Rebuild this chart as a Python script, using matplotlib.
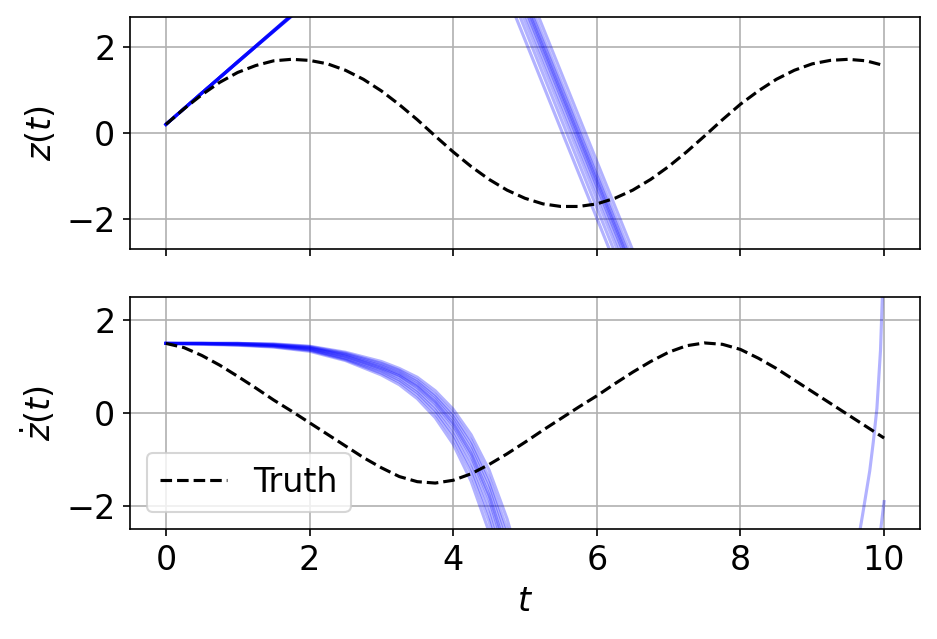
import matplotlib
matplotlib.use("Agg")
import matplotlib.pyplot as plt

plt.rcParams['font.size'] = 16

# ---- Truth ----
t_truth = [0.0, 0.25, 0.5, 0.75, 1.0, 1.25, 1.5, 1.75, 2.0, 2.25, 2.5, 2.75, 3.0, 3.25,
           3.5, 3.75, 4.0, 4.25, 4.5, 4.75, 5.0, 5.25, 5.5, 5.75, 6.0, 6.25, 6.5, 6.75,
           7.0, 7.25, 7.5, 7.75, 8.0, 8.25, 8.5, 8.75, 9.0, 9.25, 9.5, 9.75, 10.0]
z_truth = [0.20, 0.56, 0.89, 1.18, 1.41, 1.57, 1.68, 1.715, 1.69, 1.61, 1.46, 1.25, 0.98, 0.66,
           0.31, -0.07, -0.44, -0.78, -1.08, -1.33, -1.52, -1.65, -1.71, -1.71, -1.65, -1.52, -1.33, -1.08,
           -0.78, -0.44, -0.07, 0.31, 0.67, 0.98, 1.25, 1.46, 1.61, 1.69, 1.715, 1.68, 1.57]
zdot_truth = [1.50, 1.41, 1.24, 1.03, 0.79, 0.54, 0.28, 0.04, -0.21, -0.46, -0.71, -0.96, -1.18, -1.37,
              -1.48, -1.51, -1.45, -1.31, -1.11, -0.88, -0.63, -0.37, -0.12, 0.13, 0.37, 0.63, 0.88, 1.11,
              1.31, 1.45, 1.51, 1.48, 1.37, 1.18, 0.96, 0.71, 0.46, 0.21, -0.04, -0.29, -0.54]

# ---- Ensemble z(t) members ----
t_ens_z = [0.0, 0.5, 1.0, 1.5, 2.0, 4.5, 5.0, 5.5, 6.0, 6.5, 7.0, 10.0]
z_ens = [
    [0.20, 0.93, 1.66, 2.39, 3.12, 4.24, 2.17, 0.09, -1.98, -4.06, -6.13, -25.0],
    [0.20, 0.93, 1.66, 2.38, 3.11, 4.49, 2.42, 0.34, -1.74, -3.81, -5.89, -25.0],
    [0.20, 0.93, 1.66, 2.38, 3.10, 4.70, 2.62, 0.55, -1.53, -3.60, -5.68, -25.0],
    [0.20, 0.93, 1.65, 2.37, 3.09, 4.86, 2.79, 0.71, -1.36, -3.44, -5.51, -25.0],
    [0.20, 0.93, 1.65, 2.37, 3.08, 4.99, 2.91, 0.84, -1.24, -3.31, -5.39, -25.0],
    [0.20, 0.93, 1.66, 2.38, 3.10, 5.07, 3.00, 0.92, -1.15, -3.23, -5.30, -25.0],
    [0.20, 0.93, 1.65, 2.37, 3.08, 5.15, 3.08, 1.00, -1.07, -3.15, -5.22, -25.0],
    [0.20, 0.93, 1.66, 2.38, 3.11, 5.24, 3.16, 1.09, -0.99, -3.07, -5.14, -25.0],
    [0.20, 0.93, 1.65, 2.37, 3.09, 5.36, 3.29, 1.21, -0.86, -2.94, -5.01, -25.0],
    [0.20, 0.93, 1.65, 2.36, 3.07, 5.57, 3.49, 1.42, -0.66, -2.73, -4.81, -25.0],
]

# ---- Ensemble zdot(t) members ----
t_ens_zdot = [0.0, 0.5, 1.0, 1.5, 2.0, 2.5, 3.0, 3.25, 3.5, 3.75, 4.0, 4.25, 4.5, 4.75,
              5.0, 5.25, 5.5, 9.5, 9.6, 9.7, 9.8, 9.85, 9.9, 9.95, 10.0]
zdot_ens = [
    [1.50, 1.48, 1.46, 1.42, 1.33, 1.13, 0.82, 0.61, 0.31, -0.10, -0.67, -1.47, -2.56, -3.94,
     -5.54, -7.35, -9.3, -12, -12, -12, -12, -12, -12, -12, -12],
    [1.50, 1.49, 1.47, 1.43, 1.35, 1.15, 0.86, 0.67, 0.38, -0.01, -0.55, -1.30, -2.34, -3.68,
     -5.25, -7.02, -9.0, -12, -12, -12, -12, -12, -12, -12, -12],
    [1.50, 1.49, 1.47, 1.44, 1.36, 1.17, 0.90, 0.71, 0.44, 0.06, -0.46, -1.18, -2.18, -3.49,
     -5.04, -6.78, -8.8, -12, -12, -12, -12, -12, -12, -12, -12],
    [1.50, 1.49, 1.48, 1.45, 1.37, 1.19, 0.93, 0.76, 0.49, 0.13, -0.36, -1.05, -2.01, -3.29,
     -4.82, -6.54, -8.5, -4.5, -3.1, -2.2, -1.25, -0.62, 0.1, 1.35, 3.6],
    [1.50, 1.50, 1.485, 1.455, 1.39, 1.22, 0.96, 0.80, 0.55, 0.20, -0.27, -0.93, -1.85, -3.10,
     -4.60, -6.30, -8.2, -12, -12, -12, -12, -12, -12, -12, -12],
    [1.50, 1.50, 1.49, 1.46, 1.40, 1.23, 0.98, 0.82, 0.58, 0.24, -0.22, -0.87, -1.77, -2.99,
     -4.47, -6.16, -8.05, -12, -12, -12, -12, -12, -12, -12, -12],
    [1.50, 1.50, 1.49, 1.47, 1.41, 1.25, 1.01, 0.85, 0.62, 0.29, -0.15, -0.78, -1.64, -2.83,
     -4.28, -5.94, -7.8, -12, -12, -12, -12, -12, -12, -12, -12],
    [1.50, 1.50, 1.50, 1.47, 1.42, 1.27, 1.04, 0.89, 0.67, 0.35, -0.08, -0.68, -1.52, -2.66,
     -4.08, -5.72, -7.6, -6.0, -5.5, -4.8, -4.1, -3.68, -3.2, -2.55, -1.91],
    [1.50, 1.50, 1.50, 1.48, 1.43, 1.29, 1.07, 0.92, 0.71, 0.40, -0.01, -0.59, -1.40, -2.50,
     -3.89, -5.50, -7.4, -12, -12, -12, -12, -12, -12, -12, -12],
    [1.50, 1.50, 1.50, 1.49, 1.44, 1.31, 1.11, 0.96, 0.77, 0.48, 0.08, -0.47, -1.23, -2.28,
     -3.63, -5.21, -7.1, -12, -12, -12, -12, -12, -12, -12, -12],
]

fig, (ax1, ax2) = plt.subplots(2, 1, sharex=True, figsize=(937 / 150, 639 / 150), dpi=150)
fig.subplots_adjust(left=130 / 937, right=920 / 937, top=1 - 17 / 639, bottom=1 - 529 / 639,
                    hspace=48 / 232)

for zs in z_ens:
    ax1.plot(t_ens_z, zs, color='blue', alpha=0.3)
ax1.plot(t_truth, z_truth, 'k--', label='Truth')
ax1.set_ylim(-2.7, 2.7)
ax1.set_ylabel(r'$z(t)$')
ax1.grid(True)

for zd in zdot_ens:
    ax2.plot(t_ens_zdot, zd, color='blue', alpha=0.3)
ax2.plot(t_truth, zdot_truth, 'k--', label='Truth')
ax2.set_ylim(-2.5, 2.5)
ax2.set_ylabel(r'$\dot{z}(t)$')
ax2.set_xlabel(r'$t$')
ax2.grid(True)
ax2.legend(loc='lower left')

ax2.set_xlim(-0.5, 10.5)
ax2.set_xticks([0, 2, 4, 6, 8, 10])

fig.savefig('out.png', dpi=150)
